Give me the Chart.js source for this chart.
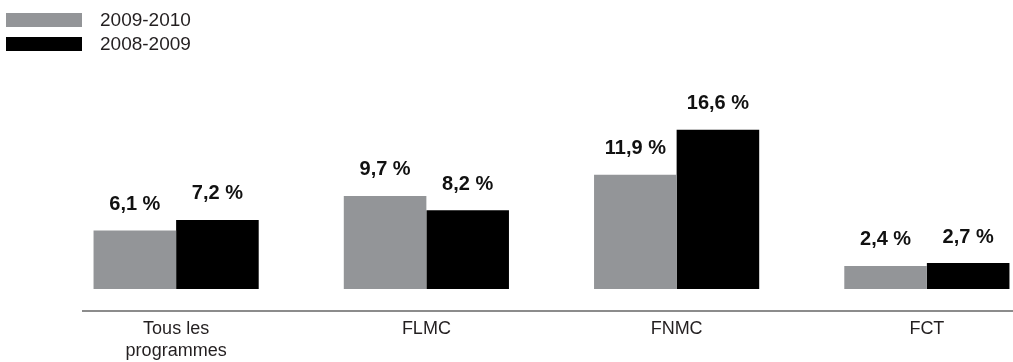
<!DOCTYPE html>
<html lang="fr">
<head>
<meta charset="utf-8">
<title>Taux par programme</title>
<script src="https://cdn.jsdelivr.net/npm/chart.js@4.4.1/dist/chart.umd.min.js"></script>
<style>
  html, body { margin: 0; padding: 0; background: #fff; overflow: hidden; }
  #wrap { position: relative; width: 1013px; height: 362px; overflow: hidden; }
  #chart { position: absolute; left: 0; top: 0; }
  #legend { position: absolute; left: 6px; top: 13px; font: 19px "Liberation Sans", Arial, sans-serif; color: #231f20; }
  #legend .item { display: flex; align-items: center; height: 14px; margin-bottom: 10px; }
  #legend .box { width: 76px; height: 14px; margin-right: 18px; }
</style>
</head>
<body>
<div id="wrap">
  <canvas id="chart" width="1060" height="362"></canvas>
  <div id="legend"></div>
</div>
<script>
// categories and values (percent)
const categories = [['Tous les', 'programmes'], 'FLMC', 'FNMC', 'FCT'];
const seriesNames = ['2009-2010', '2008-2009'];
const values2010 = [6.1, 9.7, 11.9, 2.4];
const values2009 = [7.2, 8.2, 16.6, 2.7];
const seriesColors = ['#939598', '#000000'];

const fmt = v => v.toFixed(1).replace('.', ',') + ' %';

// value labels over each bar
const barValues = {
  id: 'barValues',
  afterDatasetsDraw(chart) {
    const ctx = chart.ctx;
    ctx.save();
    ctx.font = 'bold 20px "Liberation Sans", Arial, sans-serif';
    ctx.fillStyle = '#111';
    ctx.textAlign = 'center';
    ctx.textBaseline = 'middle';
    chart.data.datasets.forEach((ds, i) => {
      chart.getDatasetMeta(i).data.forEach((bar, j) => {
        ctx.fillText(fmt(ds.data[j]), bar.x, bar.y - 26);
      });
    });
    ctx.restore();
  }
};

// baseline rule under the bars
const baseRule = {
  id: 'baseRule',
  afterDraw(chart) {
    const { ctx, chartArea } = chart;
    const y = chartArea.bottom + 22;
    ctx.save();
    ctx.strokeStyle = '#8c8c8c';
    ctx.lineWidth = 2;
    ctx.beginPath();
    ctx.moveTo(chartArea.left + 31, y);
    ctx.lineTo(chart.width, y);
    ctx.stroke();
    ctx.restore();
  }
};

const chart = new Chart(document.getElementById('chart'), {
  type: 'bar',
  data: {
    labels: categories,
    datasets: [
      { label: seriesNames[0], data: values2010, backgroundColor: seriesColors[0] },
      { label: seriesNames[1], data: values2009, backgroundColor: seriesColors[1] }
    ]
  },
  options: {
    responsive: false,
    animation: false,
    devicePixelRatio: 1,
    layout: { padding: { top: 97, left: 51, right: 8, bottom: 0 } },
    datasets: { bar: { categoryPercentage: 0.66, barPercentage: 1.0 } },
    plugins: { legend: { display: false }, tooltip: { enabled: false } },
    scales: {
      x: {
        grid: { display: false },
        border: { display: false },
        afterFit(scale) { scale.height = 73; },
        ticks: {
          padding: 21,
          color: '#231f20',
          font: { family: '"Liberation Sans", Arial, sans-serif', size: 18, lineHeight: 1.22 }
        }
      },
      y: { display: false, min: 0, max: 20 }
    }
  },
  plugins: [barValues, baseRule]
});

// legend built from the datasets
const legend = document.getElementById('legend');
chart.data.datasets.forEach(ds => {
  const item = document.createElement('div');
  item.className = 'item';
  item.innerHTML = `<span class="box" style="background:${ds.backgroundColor}"></span><span>${ds.label}</span>`;
  legend.appendChild(item);
});
</script>
</body>
</html>
